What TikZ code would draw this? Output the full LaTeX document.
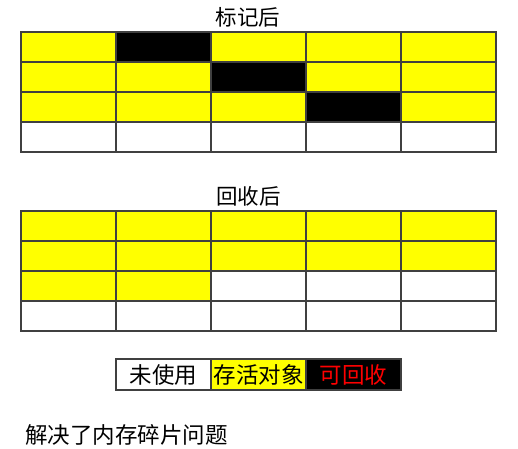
\documentclass[tikz,border=0pt]{standalone}
\usepackage{fontspec}
\setmainfont{Noto Sans CJK SC}
\definecolor{objyellow}{RGB}{255,255,0}
\definecolor{gridline}{RGB}{64,64,64}
\definecolor{freered}{RGB}{255,0,0}
\begin{document}
\begin{tikzpicture}[x=1pt,y=-1pt,
  cell/.style={draw=gridline,line width=1.1pt,rectangle,minimum width=95pt,minimum height=30pt,inner sep=0pt,outer sep=0pt},
  ycell/.style={cell,fill=objyellow},
  bcell/.style={cell,fill=black},
  wcell/.style={cell,fill=white},
  label/.style={font=\fontsize{21.5}{24}\selectfont,inner sep=0pt},
  notelabel/.style={font=\fontsize{22.5}{26}\selectfont,inner sep=0pt},
  legcell/.style={draw=gridline,line width=1.1pt,rectangle,minimum width=95pt,minimum height=31pt,inner sep=0pt,font=\fontsize{22.5}{26}\selectfont}]
\useasboundingbox[fill=white] (0,0) rectangle (518,448);
% titles
\node[label] (t1) at (248,17) {标记后};
\node[label] (t2) at (248.5,196) {回收后};
% top grid
\foreach \r/\row in {1/{y,b,y,y,y},2/{y,y,b,y,y},3/{y,y,y,b,y},4/{w,w,w,w,w}}{
  \foreach \k [count=\c] in \row {
    \node[\k cell] (a-\r-\c) at ({21+95*(\c-0.5)},{32+30*(\r-0.5)}) {};
  }
}
% bottom grid
\foreach \r/\row in {1/{y,y,y,y,y},2/{y,y,y,y,y},3/{y,y,w,w,w},4/{w,w,w,w,w}}{
  \foreach \k [count=\c] in \row {
    \node[\k cell] (b-\r-\c) at ({21+95*(\c-0.5)},{211+30*(\r-0.5)}) {};
  }
}
% legend
\node[legcell,fill=white] (l1) at (163.5,374.5) {未使用};
\node[legcell,fill=objyellow] (l2) at (258.5,374.5) {存活对象};
\node[legcell,fill=black,text=freered] (l3) at (353.5,374.5) {可回收};
% note
\node[notelabel,anchor=west] (note) at (25,435) {解决了内存碎片问题};
\end{tikzpicture}
\end{document}
